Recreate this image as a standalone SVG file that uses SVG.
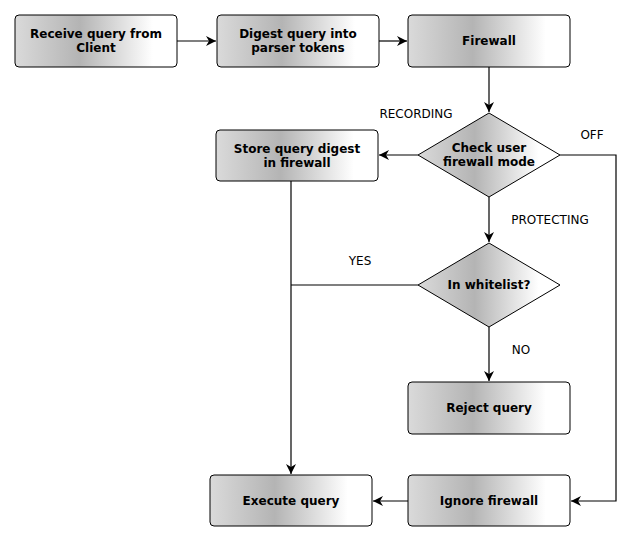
<svg xmlns="http://www.w3.org/2000/svg" width="631" height="542" viewBox="0 0 631 542">
<defs>
<linearGradient id="g" x1="0" y1="0" x2="1" y2="0">
<stop offset="0" stop-color="#dadada"/>
<stop offset="0.4" stop-color="#b4b4b4"/>
<stop offset="0.85" stop-color="#ffffff"/>
<stop offset="1" stop-color="#ffffff"/>
</linearGradient>
<marker id="a" markerWidth="12" markerHeight="12" refX="10" refY="5" orient="auto" markerUnits="userSpaceOnUse" viewBox="0 0 12 10">
<path d="M0,0 L10,5 L0,10 L3,5 Z" fill="#000"/>
</marker>
</defs>
<style>
.n{fill:url(#g);stroke:#000;stroke-width:1}
.t{font-family:"DejaVu Sans",sans-serif;font-size:12px;font-weight:bold;text-anchor:middle;fill:#000}
.l{font-family:"DejaVu Sans",sans-serif;font-size:12px;text-anchor:middle;fill:#000}
.c{fill:none;stroke:#000;stroke-width:1.2}
</style>
<rect width="631" height="542" fill="#fff"/>
<g id="connectors">
<path class="c" d="M177,41 H216" marker-end="url(#a)"/>
<path class="c" d="M379,41 H407" marker-end="url(#a)"/>
<path class="c" d="M489,67 V112" marker-end="url(#a)"/>
<path class="c" d="M418,155 H379" marker-end="url(#a)"/>
<path class="c" d="M560,155 H616 V501 H571" marker-end="url(#a)"/>
<path class="c" d="M489,197 V242" marker-end="url(#a)"/>
<path class="c" d="M418,285 H291"/>
<path class="c" d="M291,181 V474" marker-end="url(#a)"/>
<path class="c" d="M489,327 V381" marker-end="url(#a)"/>
<path class="c" d="M408,501 H373" marker-end="url(#a)"/>
<text class="l" x="416" y="118">RECORDING</text>
<text class="l" x="592" y="139">OFF</text>
<text class="l" x="550" y="224">PROTECTING</text>
<text class="l" x="360" y="265">YES</text>
<text class="l" x="521" y="354">NO</text>
</g>
<g id="receive"><rect class="n" x="15" y="15" width="162" height="52" rx="4"/><text class="t" x="96" y="38">Receive query from</text><text class="t" x="96" y="52">Client</text></g>
<g id="digest"><rect class="n" x="217" y="15" width="162" height="52" rx="4"/><text class="t" x="298" y="38">Digest query into</text><text class="t" x="298" y="52">parser tokens</text></g>
<g id="firewall"><rect class="n" x="408" y="15" width="162" height="52" rx="4"/><text class="t" x="489" y="45">Firewall</text></g>
<g id="check"><polygon class="n" points="489,113 560,155 489,197 418,155"/><text class="t" x="489" y="152">Check user</text><text class="t" x="489" y="166">firewall mode</text></g>
<g id="store"><rect class="n" x="216" y="130" width="162" height="51" rx="4"/><text class="t" x="297" y="153">Store query digest</text><text class="t" x="297" y="167">in firewall</text></g>
<g id="whitelist"><polygon class="n" points="489,243 560,285 489,327 418,285"/><text class="t" x="489" y="289">In whitelist?</text></g>
<g id="reject"><rect class="n" x="408" y="382" width="162" height="52" rx="4"/><text class="t" x="489" y="412">Reject query</text></g>
<g id="execute"><rect class="n" x="210" y="475" width="162" height="51" rx="4"/><text class="t" x="291" y="505">Execute query</text></g>
<g id="ignore"><rect class="n" x="408" y="475" width="162" height="51" rx="4"/><text class="t" x="489" y="505">Ignore firewall</text></g>
</svg>
